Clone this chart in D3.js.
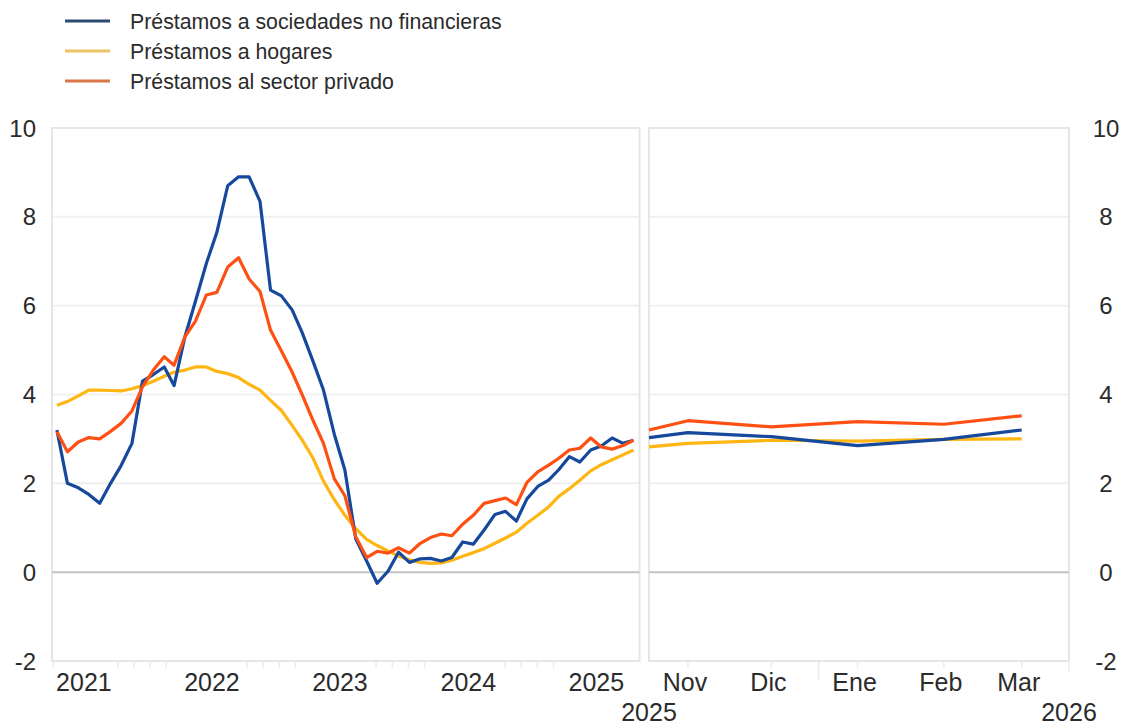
<!DOCTYPE html>
<html><head><meta charset="utf-8">
<script src="https://cdn.jsdelivr.net/npm/d3@7/dist/d3.min.js"></script>
<style>
body{margin:0;background:#fff}
svg{display:block}
text{font-family:"Liberation Sans",Arial,Helvetica,sans-serif;fill:#2b2b2b}
</style>
</head><body>
<svg id="chart" width="1130" height="725"></svg>
<script>
// ---------- DATA ----------
const seriesNames = ["Préstamos a sociedades no financieras", "Préstamos a hogares", "Préstamos al sector privado"];
// monthly, Apr 2021 .. Oct 2025 (55 months)
const nfcLoans = [3.2,2.0,1.9,1.75,1.55,2.0,2.4,2.9,4.3,4.45,4.62,4.2,5.3,6.1,6.95,7.65,8.7,8.9,8.9,8.35,
  6.35,6.22,5.9,5.4,4.75,4.1,3.1,2.3,0.75,0.25,-0.25,0.02,0.45,0.22,0.3,0.31,0.25,0.33,0.68,0.63,
  0.95,1.3,1.37,1.15,1.65,1.93,2.07,2.3,2.6,2.48,2.75,2.84,3.02,2.9,2.97];
const householdLoans = [3.76,3.84,3.97,4.1,4.1,4.09,4.08,4.13,4.2,4.3,4.41,4.5,4.55,4.62,4.62,4.52,4.47,4.38,4.23,4.1,
  3.87,3.64,3.3,2.98,2.57,2.05,1.63,1.28,0.98,0.74,0.6,0.48,0.36,0.28,0.22,0.2,0.21,0.27,0.36,0.44,
  0.53,0.65,0.77,0.9,1.1,1.28,1.47,1.7,1.88,2.07,2.28,2.42,2.53,2.64,2.75];
const privateLoans = [3.16,2.71,2.93,3.03,3.0,3.17,3.35,3.63,4.17,4.55,4.85,4.66,5.3,5.65,6.24,6.3,6.87,7.08,6.6,6.32,
  5.45,4.98,4.5,4.0,3.42,2.9,2.1,1.72,0.8,0.33,0.47,0.43,0.55,0.43,0.65,0.78,0.86,0.82,1.08,1.28,
  1.55,1.61,1.67,1.52,2.02,2.26,2.41,2.56,2.75,2.79,3.02,2.82,2.77,2.85,2.97];
const yearLabels = ["2021","2022","2023","2024","2025"];

// recent panel: start of Nov 2025, then Nov..Mar
const recentLabels = ["Nov","Dic","Ene","Feb","Mar"];
const recentNfc = [3.03,3.14,3.05,2.85,2.99,3.2];
const recentHouseholds = [2.82,2.9,2.97,2.95,2.99,3.0];
const recentPrivate = [3.2,3.41,3.27,3.39,3.33,3.52];
const recentYearLabels = ["2025","2026"];

const yTicks = [-2,0,2,4,6,8,10];

// ---------- LAYOUT ----------
const svg = d3.select("#chart");
const plotTop = 128, plotBottom = 661;
const left1 = 52, right1 = 639.5, left2 = 649, right2 = 1069;
const colors = {nfc:"#16489c", hh:"#ffb612", priv:"#ff5014"};
const legendColors = ["#2d4a73","#ecc465","#d9774b"];

const y = d3.scaleLinear().domain([-2,10]).range([plotBottom, plotTop]);

const months = d3.timeMonth.range(new Date(2021,3,1), new Date(2025,10,1));
const midMonth = months.map(d => d3.timeDay.offset(d, 14));
const xL = d3.scaleTime().domain([new Date(2021,3,1), new Date(2025,10,1)]).range([left1, right1]);

const recentDates = [new Date(2025,10,1)].concat(d3.timeMonth.range(new Date(2025,10,1), new Date(2026,3,1)).map(d=>d3.timeDay.offset(d,14)));
const xR = d3.scaleTime().domain([new Date(2025,10,1), new Date(2026,3,1)]).range([left2, right2]);

// frames + grid
function panel(x0, x1){
  const g = svg.append("g");
  g.selectAll("line.grid").data(yTicks.filter(v=>v!==0 && v!==10 && v!==-2)).join("line")
    .attr("x1",x0).attr("x2",x1).attr("y1",d=>y(d)).attr("y2",d=>y(d))
    .attr("stroke","#f0f0f0").attr("stroke-width",2);
  g.append("rect").attr("x",x0).attr("y",plotTop).attr("width",x1-x0).attr("height",plotBottom-plotTop)
    .attr("fill","none").attr("stroke","#e6e6e6").attr("stroke-width",2);
  g.append("line").attr("x1",x0).attr("x2",x1).attr("y1",y(0)).attr("y2",y(0))
    .attr("stroke","#c4c4c4").attr("stroke-width",2);
}
panel(left1, right1);
panel(left2, right2);

// y axis labels
svg.append("g").selectAll("text").data(yTicks).join("text")
  .attr("x",36).attr("y",d=>y(d)).attr("dy","0.36em").attr("text-anchor","end")
  .attr("font-size",24).text(d=>d);
svg.append("g").selectAll("text").data(yTicks).join("text")
  .attr("x",1106).attr("y",d=>y(d)).attr("dy","0.36em").attr("text-anchor","middle")
  .attr("font-size",24).text(d=>d);

// left x axis: labels at mid-year, faint ticks
const yearPos = yearLabels.map(t => xL(new Date(+t,6,1)));
const tickDates = d3.range(0, 36).map(k => d3.timeDay.offset(new Date(2021,3,1), 4 + k*46));
svg.append("g").selectAll("line").data(tickDates.filter(d => d < new Date(2025,10,1) && yearPos.every(p => Math.abs(xL(d)-p) > 30))).join("line")
  .attr("x1",d=>xL(d)).attr("x2",d=>xL(d)).attr("y1",plotBottom+1).attr("y2",plotBottom+7)
  .attr("stroke","#ececec").attr("stroke-width",1.5);
svg.append("g").selectAll("text").data(yearLabels).join("text")
  .attr("x",(d,i)=>yearPos[i]).attr("y",691).attr("text-anchor","middle")
  .attr("font-size",25).text(d=>d);

// right x axis
const recentMid = recentDates.slice(1);
svg.append("g").selectAll("line").data(recentMid).join("line")
  .attr("x1",d=>xR(d)).attr("x2",d=>xR(d)).attr("y1",plotBottom+1).attr("y2",plotBottom+7)
  .attr("stroke","#ececec").attr("stroke-width",1.5);
svg.append("line").attr("x1",xR(new Date(2026,0,1))).attr("x2",xR(new Date(2026,0,1)))
  .attr("y1",plotBottom+1).attr("y2",plotBottom+19).attr("stroke","#ececec").attr("stroke-width",1.5);
svg.append("line").attr("x1",right2).attr("x2",right2)
  .attr("y1",plotBottom+1).attr("y2",plotBottom+12).attr("stroke","#ececec").attr("stroke-width",1.5);
svg.append("g").selectAll("text").data(recentLabels).join("text")
  .attr("x",(d,i)=>xR(recentMid[i])-3).attr("y",691).attr("text-anchor","middle")
  .attr("font-size",25).text(d=>d);
svg.append("g").selectAll("text").data(recentYearLabels).join("text")
  .attr("x",(d,i)=> i===0 ? xR.range()[0] : xR.range()[1]).attr("y",721).attr("text-anchor","middle")
  .attr("font-size",25).text(d=>d);

// lines
const lineL = d3.line().x((d,i)=>xL(midMonth[i])).y(d=>y(d));
const lineR = d3.line().x((d,i)=>xR(recentDates[i])).y(d=>y(d));
const leftSeries = [[householdLoans,colors.hh],[nfcLoans,colors.nfc],[privateLoans,colors.priv]];
const rightSeries = [[recentHouseholds,colors.hh],[recentNfc,colors.nfc],[recentPrivate,colors.priv]];
svg.append("g").selectAll("path").data(leftSeries).join("path")
  .attr("d",d=>lineL(d[0])).attr("fill","none").attr("stroke",d=>d[1])
  .attr("stroke-width",3.2).attr("stroke-linejoin","round");
svg.append("g").selectAll("path").data(rightSeries).join("path")
  .attr("d",d=>lineR(d[0])).attr("fill","none").attr("stroke",d=>d[1])
  .attr("stroke-width",3.2).attr("stroke-linejoin","round");

// legend
const lg = svg.append("g");
seriesNames.forEach((n,i)=>{
  const yy = 21 + i*30;
  lg.append("line").attr("x1",65).attr("x2",110).attr("y1",yy).attr("y2",yy)
    .attr("stroke",legendColors[i]).attr("stroke-width",3);
  lg.append("text").attr("x",130).attr("y",yy+8).attr("font-size",21.3).text(n);
});
</script>
</body></html>
